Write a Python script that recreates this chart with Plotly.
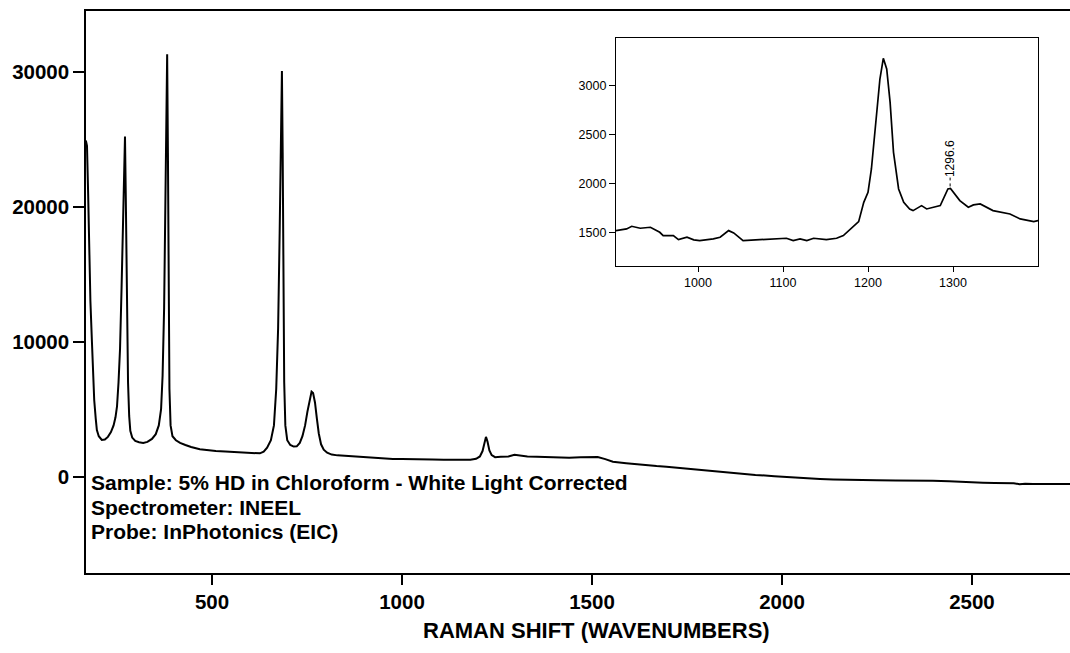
import plotly.graph_objects as go

# ---- main spectrum ----
main_shift = [168, 171, 174, 177, 180, 184, 187, 190, 194, 197, 202, 210, 218, 226, 234, 241, 246, 250,
              254, 258, 262, 266, 269, 271, 273, 275, 277, 279, 282, 285, 290, 298, 308, 319, 330, 342,
              352, 360, 366, 370, 374, 377, 380, 382, 384, 386, 388, 391, 396, 405, 416, 430, 445, 468,
              490, 510, 535, 555, 580, 605, 626, 636, 645, 655, 663, 669, 674, 678, 681, 684, 686, 688,
              690, 693, 698, 706, 715, 723, 731, 738, 745, 751, 757, 762, 766, 771, 776, 781, 787, 794,
              803, 815, 830, 850, 870, 889, 910, 930, 955, 976, 1000, 1025, 1050, 1080, 1110, 1140, 1160,
              1180, 1195, 1205, 1212, 1217, 1221, 1225, 1230, 1236, 1245, 1260, 1280, 1296, 1310, 1330,
              1355, 1380, 1410, 1440, 1470, 1495, 1515, 1535, 1555, 1590, 1630, 1670, 1696, 1740, 1790,
              1837, 1880, 1930, 1980, 2030, 2065, 2100, 2135, 2170, 2210, 2250, 2300, 2350, 2397, 2440,
              2480, 2529, 2560, 2590, 2610, 2625, 2640, 2661, 2700, 2730, 2758]
main_intensity = [24900, 24500, 21000, 16800, 13000, 10000, 7500, 5680, 4300, 3460, 3000, 2720, 2750, 2950,
                  3300, 3800, 4400, 5200, 7000, 9500, 14000, 19500, 23500, 25200, 21000, 15000, 10500, 7000,
                  4500, 3400, 2900, 2650, 2550, 2500, 2580, 2800, 3150, 3800, 5000, 7500, 12500, 19000,
                  27000, 31300, 24000, 14000, 6500, 3800, 3000, 2700, 2500, 2350, 2200, 2040, 1960, 1900,
                  1860, 1830, 1790, 1760, 1730, 1850, 2150, 2700, 3800, 6500, 11000, 18000, 25000, 30050,
                  24000, 14000, 7000, 3800, 2700, 2350, 2230, 2250, 2500, 3000, 3800, 4800, 5800, 6300,
                  6200, 5500, 4300, 3200, 2400, 2000, 1780, 1640, 1580, 1540, 1520, 1480, 1450, 1420, 1350,
                  1310, 1320, 1290, 1280, 1270, 1260, 1250, 1240, 1260, 1330, 1500, 1900, 2500, 2950, 2600,
                  1950, 1600, 1450, 1470, 1500, 1620, 1560, 1500, 1480, 1450, 1420, 1400, 1440, 1480, 1460,
                  1300, 1110, 1000, 880, 790, 740, 620, 480, 370, 240, 130, 40, -60, -120, -170, -210, -245,
                  -260, -270, -290, -280, -300, -340, -400, -440, -460, -500, -480, -560, -520, -540, -540,
                  -550, -540]

# ---- inset spectrum ----
inset_shift = [903, 916, 922, 932, 944, 951, 955, 959, 971, 977, 987, 995, 1002, 1018, 1026, 1036, 1042,
               1053, 1073, 1093, 1104, 1112, 1120, 1128, 1136, 1151, 1163, 1171, 1179, 1189, 1195, 1200,
               1204, 1210, 1214, 1218, 1222, 1226, 1230, 1236, 1242, 1249, 1253, 1263, 1269, 1277, 1285,
               1294, 1297, 1308, 1318, 1324, 1332, 1347, 1367, 1379, 1395, 1400]
inset_intensity = [1523, 1541, 1568, 1548, 1558, 1523, 1507, 1473, 1473, 1432, 1456, 1429, 1422, 1439,
                   1456, 1524, 1500, 1422, 1429, 1439, 1446, 1422, 1439, 1422, 1446, 1432, 1446, 1473, 1541,
                   1616, 1813, 1915, 2153, 2731, 3071, 3282, 3173, 2833, 2323, 1949, 1813, 1745, 1728, 1779,
                   1745, 1762, 1779, 1949, 1955, 1830, 1762, 1786, 1796, 1728, 1694, 1643, 1616, 1626]

main_xticks = [500, 1000, 1500, 2000, 2500]
main_yticks = [0, 10000, 20000, 30000]
inset_xticks = [1000, 1100, 1200, 1300]
inset_yticks = [1500, 2000, 2500, 3000]
peak_label = 1296.6
peak_value = 1955

info_lines = ["Sample: 5% HD in Chloroform - White Light Corrected",
              "Spectrometer: INEEL",
              "Probe: InPhotonics (EIC)"]
info_y = [-450, -2244, -4050]
x_title = "RAMAN SHIFT (WAVENUMBERS)"

FONT = "Liberation Sans, Arial, Helvetica, sans-serif"

fig = go.Figure()
fig.add_trace(go.Scatter(x=main_shift, y=main_intensity, mode="lines",
                         line=dict(color="black", width=2), xaxis="x", yaxis="y",
                         showlegend=False, hoverinfo="skip"))
fig.add_trace(go.Scatter(x=inset_shift, y=inset_intensity, mode="lines",
                         line=dict(color="black", width=1.7), xaxis="x2", yaxis="y2",
                         showlegend=False, hoverinfo="skip"))

ann = []
for t, yv in zip(info_lines, info_y):
    ann.append(dict(text=t, xref="paper", yref="y", x=0.003, y=yv, xanchor="left",
                    yanchor="middle", showarrow=False,
                    font=dict(family=FONT, size=21, color="black", weight="bold")))
ann.append(dict(text=x_title, xref="paper", yref="paper", x=0.5193, y=-0.1032,
                xanchor="center", yanchor="middle", showarrow=False,
                font=dict(family=FONT, size=22, color="black", weight="bold")))
ann.append(dict(text=str(peak_label), xref="x2", yref="y2", x=peak_label, y=2255,
                xanchor="center", yanchor="middle", textangle=-90, showarrow=False,
                font=dict(family=FONT, size=12, color="black")))

fig.update_layout(
    width=1070, height=653,
    margin=dict(l=86, r=0, t=11, b=80),
    paper_bgcolor="white", plot_bgcolor="white",
    annotations=ann,
    shapes=[dict(type="line", xref="x2", yref="y2", x0=peak_label, x1=peak_label,
                 y0=peak_value + 20, y1=peak_value + 110,
                 line=dict(color="black", width=1, dash="dot"))],
    xaxis=dict(range=[168.4, 2758], tickvals=main_xticks, ticks="outside", ticklen=10,
               tickwidth=1.5, tickcolor="black", showline=True, linewidth=1.5,
               linecolor="black", mirror=True, showgrid=False, zeroline=False,
               tickformat="d",
               tickfont=dict(family=FONT, size=20.5, color="black", weight="bold")),
    yaxis=dict(range=[-7133, 34496], tickvals=main_yticks, ticks="outside", ticklen=11,
               tickwidth=1.5, tickcolor="black", showline=True, linewidth=1.5,
               linecolor="black", showgrid=False, zeroline=False,
               tickformat="d",
               tickfont=dict(family=FONT, size=20.5, color="black", weight="bold")),
    xaxis2=dict(domain=[0.5386, 0.9675], anchor="y2", range=[903.5, 1400],
                tickvals=inset_xticks, ticks="outside", ticklen=5, tickwidth=1,
                tickcolor="black", showline=True, linewidth=1.2, linecolor="black",
                mirror=True, showgrid=False, zeroline=False, tickformat="d",
                tickfont=dict(family=FONT, size=12.5, color="black")),
    yaxis2=dict(domain=[0.5463, 0.9520], anchor="x2", range=[1163, 3490],
                tickvals=inset_yticks, ticks="outside", ticklen=6, tickwidth=1,
                tickcolor="black", showline=True, linewidth=1.2, linecolor="black",
                mirror=True, showgrid=False, zeroline=False, tickformat="d",
                tickfont=dict(family=FONT, size=12.5, color="black")),
)

fig.write_html("out.html")
